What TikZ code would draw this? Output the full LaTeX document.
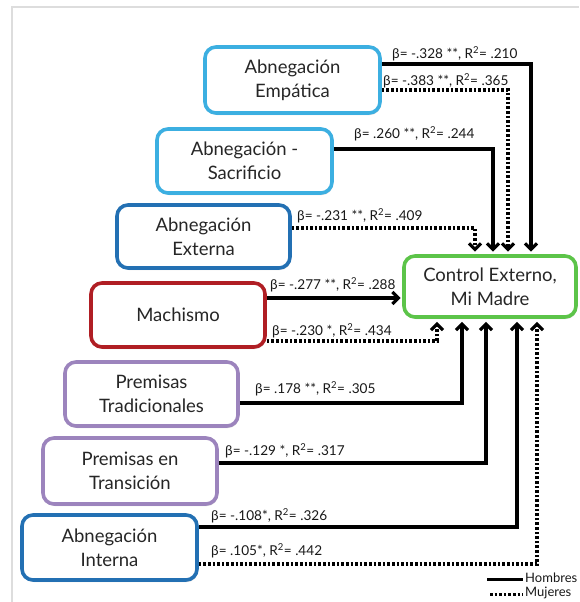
\documentclass[tikz,border=0pt]{standalone}
\usepackage{fontspec}
\setmainfont{Lato}
\usetikzlibrary{arrows.meta,shadows,calc}
\definecolor{cyanb}{HTML}{3CAFE1}
\definecolor{blueb}{HTML}{2370B3}
\definecolor{redb}{HTML}{B01E24}
\definecolor{purpb}{HTML}{9C84BD}
\definecolor{greenb}{HTML}{5CC449}
\definecolor{framec}{HTML}{DDDDDD}
\begin{document}
\begin{tikzpicture}[x=1pt,y=-1pt,
  box/.style={draw, rounded corners=11pt, line width=3.6pt, fill=white, align=center,
    text=black!85, font=\fontsize{18.5}{24}\selectfont, inner sep=0pt,
    drop shadow={shadow xshift=1pt, shadow yshift=-2pt, opacity=0.3}},
  sol/.style={line width=3.2pt, -{Straight Barb[length=6pt,width=12pt]}},
  dotc/.style={line width=3.2pt, dash pattern=on 2.6pt off 2pt, -{Straight Barb[length=6pt,width=12pt]}},
  lab/.style={anchor=west, inner sep=0pt, font=\fontsize{13.6}{15}\selectfont, text=black!90},
  leg/.style={anchor=west, inner sep=0pt, font=\fontsize{13}{14}\selectfont, text=black!90}]
\useasboundingbox (0,0) rectangle (579,602);
\fill[white] (0,0) rectangle (579,602);
\draw[framec, line width=1.5pt] (12,602) -- (12,7) -- (579,7);

\node[box, draw=cyanb, minimum width=175pt, minimum height=66pt] (emp) at (292.5,80) {Abnegación\\Empática};
\node[box, draw=cyanb, minimum width=175pt, minimum height=64pt] (sac) at (244.5,161) {Abnegación -\\Sacrificio};
\node[box, draw=blueb, minimum width=173pt, minimum height=63pt] (ext) at (203.5,236.5) {Abnegación\\Externa};
\node[box, draw=redb, minimum width=174pt, minimum height=64pt] (mach) at (178,315) {Machismo};
\node[box, draw=greenb, minimum width=172pt, minimum height=61pt] (ctrl) at (490,286.5) {Control Externo,\\Mi Madre};
\node[box, draw=purpb, minimum width=173pt, minimum height=64pt] (trad) at (151.5,394) {Premisas\\Tradicionales};
\node[box, draw=purpb, minimum width=174pt, minimum height=66pt] (trans) at (130,471) {Premisas en\\Transición};
\node[box, draw=blueb, minimum width=175pt, minimum height=65pt] (int) at (109.5,547.5) {Abnegación\\Interna};

% connectors to top of control
\draw[sol, shorten >=2.5pt] (emp.east |- 0,64) -| (531,0 |- ctrl.north);
\draw[dotc, shorten >=2.5pt] (emp.east |- 0,90) -| (508,0 |- ctrl.north);
\draw[sol, shorten >=2.5pt] (sac.east |- 0,149) -| (493,0 |- ctrl.north);
\draw[dotc, shorten >=2.5pt] (ext.east |- 0,228) -| (475,0 |- ctrl.north);
% machismo
\draw[sol, shorten >=1.5pt] (mach.east |- 0,298) -- (ctrl.west |- 0,298);
\draw[dotc, shorten >=3pt] (mach.east |- 0,341) -| (437,0 |- ctrl.south);
% connectors to bottom of control
\draw[sol, shorten >=3pt] (trad.east |- 0,403) -| (462,0 |- ctrl.south);
\draw[sol, shorten >=3pt] (trans.east |- 0,463) -| (486,0 |- ctrl.south);
\draw[sol, shorten >=3pt] (int.east |- 0,527) -| (517,0 |- ctrl.south);
\draw[dotc, shorten >=3pt] (int.east |- 0,564) -| (537,0 |- ctrl.south);

% labels
\node[lab] (l1) at (392,54) {β= -.328 **, R\textsuperscript{2}= .210};
\node[lab] (l2) at (383,81) {β= -.383 **, R\textsuperscript{2}= .365};
\node[lab] (l3) at (354,134) {β= .260 **, R\textsuperscript{2}= .244};
\node[lab] (l4) at (297,216) {β= -.231 **, R\textsuperscript{2}= .409};
\node[lab] (l5) at (270,285) {β= -.277 **, R\textsuperscript{2}= .288};
\node[lab] (l6) at (272,331) {β= -.230 *, R\textsuperscript{2}= .434};
\node[lab] (l7) at (255,389) {β= .178 **, R\textsuperscript{2}= .305};
\node[lab] (l8) at (225,451) {β= -.129 *, R\textsuperscript{2}= .317};
\node[lab] (l9) at (211,516) {β= -.108*, R\textsuperscript{2}= .326};
\node[lab] (l10) at (211,551) {β= .105*, R\textsuperscript{2}= .442};

% legend
\coordinate (h1) at (487,579);
\coordinate (h2) at (523,579);
\coordinate (m1) at (490,594);
\coordinate (m2) at (523,594);
\draw[line width=3pt] (h1) -- (h2);
\draw[line width=3pt, dash pattern=on 2.6pt off 2pt] (m1) -- (m2);
\node[leg] (hom) at (525,578) {Hombres};
\node[leg] (muj) at (525,593) {Mujeres};
\end{tikzpicture}
\end{document}
